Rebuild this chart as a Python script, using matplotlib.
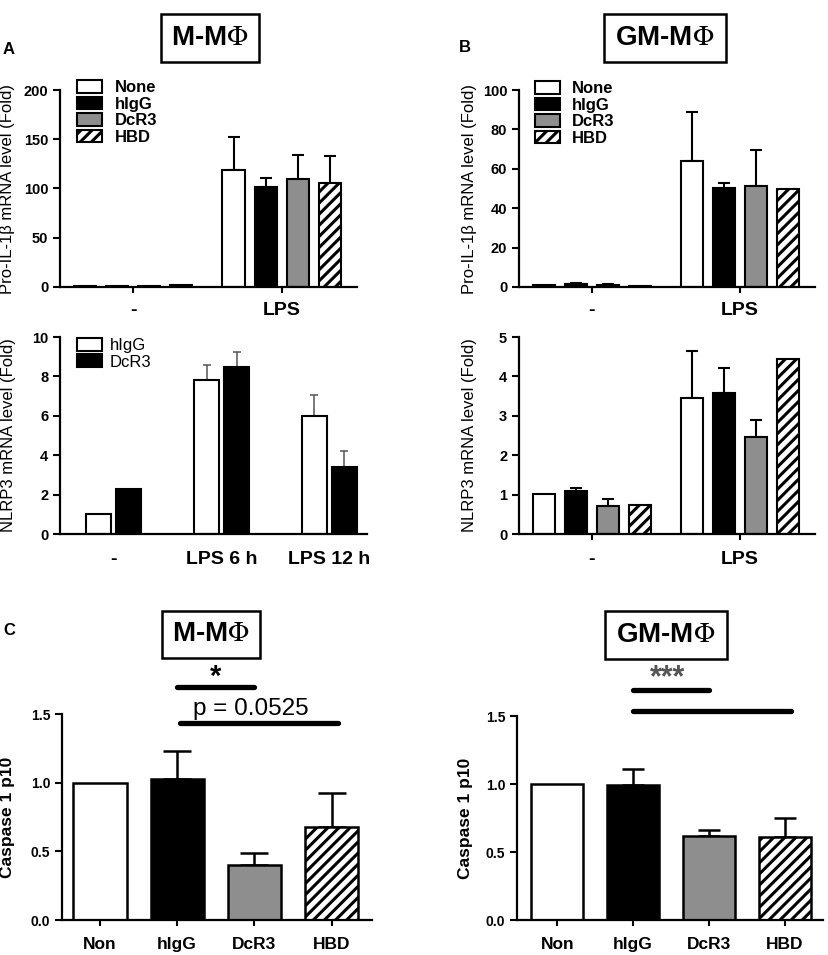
import numpy as np
import matplotlib.pyplot as plt
from matplotlib.patches import Patch, Rectangle

plt.rcParams['font.family'] = ['Liberation Sans', 'DejaVu Sans']
plt.rcParams['mathtext.fontset'] = 'stix'
plt.rcParams['hatch.linewidth'] = 2.2

W, H = 829, 955

# ---- data ----
groups_top = ['-', 'LPS']
treat4 = ['None', 'hIgG', 'DcR3', 'HBD']
colors4 = ['white', 'black', '#8e8e8e', 'white']
hatches4 = [None, None, None, '///']

# A top: Pro-IL-1b, M-MPhi
a_il1b = [[1.0, 1.2, 1.0, 1.6], [119, 102, 110, 106]]
a_il1b_err = [[1.0, 1.2, 1.0, 1.6], [152, 111, 134, 133]]

# B top: Pro-IL-1b, GM-MPhi
b_il1b = [[1.0, 1.5, 1.2, 0.5], [64, 50.5, 51.5, 49.5]]
b_il1b_err = [[1.0, 1.8, 1.5, 0.5], [89, 53, 69.5, 49.5]]

# A bottom: NLRP3, M-MPhi
groups_a_nlrp3 = ['-', 'LPS 6 h', 'LPS 12 h']
treat2 = ['hIgG', 'DcR3']
a_nlrp3_higg = [1.0, 7.8, 6.0]
a_nlrp3_higg_err = [1.0, 8.58, 7.04]
a_nlrp3_dcr3 = [2.3, 8.5, 3.4]
a_nlrp3_dcr3_err = [2.3, 9.25, 4.22]

# B bottom: NLRP3, GM-MPhi
b_nlrp3 = [[1.01, 1.1, 0.72, 0.73], [3.46, 3.58, 2.47, 4.43]]
b_nlrp3_err = [[1.01, 1.16, 0.9, 0.73], [4.65, 4.22, 2.89, 4.43]]

# C: Caspase 1 p10
casp_labels = ['Non', 'hIgG', 'DcR3', 'HBD']
casp_m = [1.0, 1.03, 0.40, 0.68]
casp_m_err = [1.0, 1.23, 0.487, 0.925]
casp_gm = [1.0, 0.99, 0.618, 0.613]
casp_gm_err = [1.0, 1.11, 0.66, 0.75]

fig = plt.figure(figsize=(W / 100, H / 100), dpi=100)


def px_axes(x0, y0, x1, y1):
    ax = fig.add_axes([x0 / W, 1 - y1 / H, (x1 - x0) / W, (y1 - y0) / H])
    for s in ['top', 'right']:
        ax.spines[s].set_visible(False)
    for s in ['left', 'bottom']:
        ax.spines[s].set_linewidth(1.6)
    ax.tick_params(axis='y', direction='out', length=5, width=1.5)
    ax.tick_params(axis='x', direction='out', length=4, width=1.5, pad=6)
    return ax


def bold_yticks(ax, size):
    ax.tick_params(axis='y', labelsize=size)
    for t in ax.get_yticklabels():
        t.set_fontweight('bold')
        t.set_fontsize(size)


def up_err(ax, x, vals, tops, capsize, lw=1.5, color='black'):
    vals = np.array(vals)
    tops = np.array(tops)
    low = np.zeros_like(vals)
    ax.errorbar(x, vals, yerr=[low, tops - vals], fmt='none', ecolor=color,
                elinewidth=lw, capsize=capsize, capthick=lw, zorder=1)


def title_box(cx, cy, w, h, label):
    fig.patches.append(Rectangle(((cx - w / 2) / W, 1 - (cy + h / 2) / H),
                                 w / W, h / H, transform=fig.transFigure,
                                 facecolor='none', edgecolor='black',
                                 linewidth=1.8))
    fig.text(cx / W, 1 - cy / H, label, ha='center', va='center',
             fontsize=20, fontweight='bold')


def four_group_panel(ax, vals, tops, ymax, yticks, ylabel, capsize):
    off = 0.216
    wd = 0.15
    for g in range(len(groups_top)):
        for i in range(4):
            x = g + (i - 1.5) * off
            ax.bar(x, vals[g][i], width=wd, color=colors4[i],
                   edgecolor='black', linewidth=1.5, hatch=hatches4[i],
                   zorder=2)
            if tops[g][i] > vals[g][i]:
                up_err(ax, [x], [vals[g][i]], [tops[g][i]], capsize)
    ax.set_xlim(-0.493, 1.507)
    ax.set_ylim(0, ymax)
    ax.set_yticks(yticks)
    ax.set_xticks(range(len(groups_top)))
    ax.set_xticklabels(groups_top, fontsize=14, fontweight='bold')
    ax.tick_params(axis='x', pad=7)
    ax.set_ylabel(ylabel, fontsize=12)
    bold_yticks(ax, 10.5)


leg_kw = dict(loc='upper left', frameon=False, borderpad=0, borderaxespad=0,
              handlelength=1.5, handleheight=0.8, labelspacing=0.08)

# ---- A top ----
ax1 = px_axes(60, 90, 357, 287)
four_group_panel(ax1, a_il1b, a_il1b_err, 200, [0, 50, 100, 150, 200],
                 'Pro-IL-1β mRNA level (Fold)', 4)
ax1.yaxis.set_label_coords(-45 / 297, 0.5)
leg = [Patch(facecolor=colors4[i], edgecolor='black', linewidth=1.5,
             hatch=hatches4[i], label=treat4[i]) for i in range(4)]
ax1.legend(handles=leg, bbox_to_anchor=(0.057, 1.05), handletextpad=0.8,
           prop={'size': 12, 'weight': 'bold'}, **leg_kw)

# ---- B top ----
ax2 = px_axes(519, 90, 815, 287)
four_group_panel(ax2, b_il1b, b_il1b_err, 100, [0, 20, 40, 60, 80, 100],
                 'Pro-IL-1β mRNA level (Fold)', 4)
ax2.yaxis.set_label_coords(-42 / 296, 0.5)
ax2.legend(handles=leg, bbox_to_anchor=(0.054, 1.045), handletextpad=0.7,
           prop={'size': 12, 'weight': 'bold'}, **leg_kw)

# ---- A bottom ----
ax3 = px_axes(60, 337, 367, 534)
xg = np.arange(len(groups_a_nlrp3))
off2 = 0.139
ax3.bar(xg - off2, a_nlrp3_higg, width=0.23, color='white', edgecolor='black',
        linewidth=1.5, zorder=2, label=treat2[0])
ax3.bar(xg + off2, a_nlrp3_dcr3, width=0.23, color='black', edgecolor='black',
        linewidth=1.5, zorder=2, label=treat2[1])
up_err(ax3, (xg - off2)[1:], a_nlrp3_higg[1:], a_nlrp3_higg_err[1:], 3,
       lw=1.1, color='#555555')
up_err(ax3, (xg + off2)[1:], a_nlrp3_dcr3[1:], a_nlrp3_dcr3_err[1:], 3,
       lw=1.1, color='#555555')
ax3.set_xlim(-0.5, 2.35)
ax3.set_ylim(0, 10)
ax3.set_yticks([0, 2, 4, 6, 8, 10])
ax3.set_xticks(xg)
ax3.set_xticklabels(groups_a_nlrp3, fontsize=14, fontweight='bold')
ax3.tick_params(axis='x', length=0, pad=12)
ax3.set_ylabel('NLRP3 mRNA level (Fold)', fontsize=12)
ax3.yaxis.set_label_coords(-44 / 307, 0.5)
bold_yticks(ax3, 10.5)
ax3.legend(bbox_to_anchor=(0.055, 0.995), handletextpad=0.45,
           prop={'size': 12}, **leg_kw)

# ---- B bottom ----
ax4 = px_axes(519, 337, 815, 534)
four_group_panel(ax4, b_nlrp3, b_nlrp3_err, 5, [0, 1, 2, 3, 4, 5],
                 'NLRP3 mRNA level (Fold)', 4)
ax4.tick_params(axis='x', pad=8)
ax4.yaxis.set_label_coords(-42 / 296, 0.5)


# ---- C ----
def casp_panel(ax, vals, tops, capsize):
    x = np.arange(len(casp_labels))
    for i in range(len(casp_labels)):
        ax.bar(x[i], vals[i], width=0.69, color=colors4[i], edgecolor='black',
               linewidth=1.8, hatch=hatches4[i], zorder=2)
    up_err(ax, x[1:], vals[1:], tops[1:], capsize, lw=1.8)
    ax.set_ylim(0, 1.5)
    ax.set_yticks([0, 0.5, 1.0, 1.5])
    ax.set_yticklabels(['0.0', '0.5', '1.0', '1.5'])
    ax.set_xticks(x)
    ax.set_xticklabels(casp_labels, fontsize=12.5, fontweight='bold')
    ax.tick_params(axis='x', pad=8)
    ax.set_ylabel('Caspase 1 p10', fontsize=12.5, fontweight='bold')
    bold_yticks(ax, 10)


ax5 = px_axes(62, 714, 372, 920)
casp_panel(ax5, casp_m, casp_m_err, 10)
ax5.set_xlim(-0.49, 3.52)
ax5.yaxis.set_label_coords(-47 / 310, 0.5)
ax5.plot([1.0, 2.0], [1.70, 1.70], color='black', lw=3.8,
         solid_capstyle='round', clip_on=False)
ax5.plot([1.04, 3.08], [1.435, 1.435], color='black', lw=3.8,
         solid_capstyle='round', clip_on=False)
ax5.text(1.5, 1.71, '*', ha='center', va='baseline', fontsize=21,
         fontweight='bold')
ax5.text(1.95, 1.49, 'p = 0.0525', ha='center', va='baseline', fontsize=17.5)

ax6 = px_axes(517, 716, 823, 920)
casp_panel(ax6, casp_gm, casp_gm_err, 8)
ax6.set_xlim(-0.53, 3.5)
ax6.yaxis.set_label_coords(-44 / 306, 0.5)
ax6.plot([1.0, 2.0], [1.69, 1.69], color='black', lw=3.8,
         solid_capstyle='round', clip_on=False)
ax6.plot([1.0, 3.08], [1.54, 1.54], color='black', lw=3.8,
         solid_capstyle='round', clip_on=False)
ax6.text(1.45, 1.72, '***', ha='center', va='baseline', fontsize=22,
         fontweight='bold', color='#555555')

# ---- titles and panel letters ----
title_box(210, 38, 97, 48, r'M-M$\Phi$')
title_box(665, 38, 122, 48, r'GM-M$\Phi$')
title_box(211, 634, 97, 47, r'M-M$\Phi$')
title_box(666, 635, 122, 48, r'GM-M$\Phi$')
fig.text(3 / W, 1 - 49 / H, 'A', fontsize=12, fontweight='bold', va='center')
fig.text(459 / W, 1 - 48 / H, 'B', fontsize=12, fontweight='bold', va='center')
fig.text(3 / W, 1 - 630 / H, 'C', fontsize=12, fontweight='bold', va='center')

fig.savefig('out.png', dpi=100)
